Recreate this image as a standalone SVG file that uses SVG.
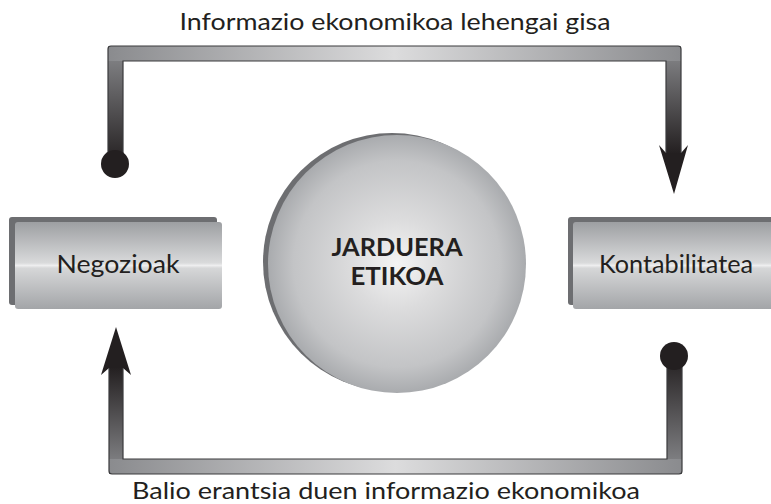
<svg xmlns="http://www.w3.org/2000/svg" width="771" height="504" viewBox="0 0 771 504">
<style>
.lbl{font-family:"Lato","Open Sans","Liberation Sans",sans-serif;font-size:23px;fill:#231f20;text-anchor:middle}
.node{font-family:"Lato","Open Sans","Liberation Sans",sans-serif;font-size:25px;fill:#231f20;text-anchor:middle}
.bold{font-family:"Lato","Open Sans","Liberation Sans",sans-serif;font-size:25px;font-weight:bold;fill:#231f20;text-anchor:middle}
.back{fill:#6d6e71}
.front{fill:url(#boxg)}
.outline{fill:none;stroke:#3a3a3c;stroke-width:1.2}
.head{fill:#231f20}
</style>
<defs>
<linearGradient id="boxg" x1="0" y1="0" x2="0" y2="1">
<stop offset="0" stop-color="#9d9fa2"/>
<stop offset="0.47" stop-color="#d9dadb"/>
<stop offset="0.5" stop-color="#eeeeef"/>
<stop offset="0.53" stop-color="#d6d7d8"/>
<stop offset="1" stop-color="#a3a5a8"/>
</linearGradient>
<radialGradient id="ballg" cx="0.5" cy="0.5" r="0.5">
<stop offset="0" stop-color="#f4f4f4"/>
<stop offset="0.35" stop-color="#dcdcdd"/>
<stop offset="0.8" stop-color="#c3c4c6"/>
<stop offset="1" stop-color="#a9abae"/>
</radialGradient>
<linearGradient id="hbar" x1="0" y1="0" x2="1" y2="0">
<stop offset="0" stop-color="#8a8b8e"/>
<stop offset="0.5" stop-color="#dcdcdd"/>
<stop offset="1" stop-color="#8a8b8e"/>
</linearGradient>
<linearGradient id="vdown" x1="0" y1="0" x2="0" y2="1">
<stop offset="0" stop-color="#8a8b8e"/>
<stop offset="1" stop-color="#231f20"/>
</linearGradient>
<linearGradient id="vup" x1="0" y1="0" x2="0" y2="1">
<stop offset="0" stop-color="#231f20"/>
<stop offset="1" stop-color="#8a8b8e"/>
</linearGradient>
</defs>

<g id="connectors">
<g id="top-connector">
<rect x="108" y="46" width="15" height="118" fill="url(#vdown)"/>
<rect x="666" y="46" width="15" height="108" fill="url(#vdown)"/>
<rect x="108" y="46" width="573" height="15" fill="url(#hbar)"/>
<path class="outline" d="M108,164 V49 Q108,46 111,46 H678 Q681,46 681,49 V154 M123,164 V61 H666 V154"/>
<circle class="head" cx="115" cy="164" r="14"/>
<polygon class="head" points="659,145 666,153 681,153 688,145 674,194"/>
</g>
<g id="bottom-connector">
<rect x="109" y="367" width="14" height="107" fill="url(#vup)"/>
<rect x="667" y="356" width="15" height="118" fill="url(#vup)"/>
<rect x="109" y="459" width="573" height="15" fill="url(#hbar)"/>
<path class="outline" d="M109,368 V471 Q109,474 112,474 H679 Q682,474 682,471 V360 M123,368 V459 H667 V360"/>
<circle class="head" cx="674" cy="356" r="14"/>
<polygon class="head" points="101,375 109,368 123,368 131,375 116,327"/>
</g>
</g>

<g id="negozioak">
<rect class="back" x="9" y="217" width="208" height="88" rx="3"/>
<rect class="front" x="15" y="222" width="207" height="87" rx="3"/>
<text class="node" x="118" y="273" textLength="123" lengthAdjust="spacingAndGlyphs">Negozioak</text>
</g>

<g id="kontabilitatea">
<rect class="back" x="568" y="217" width="220" height="88" rx="3"/>
<rect class="front" x="573" y="222" width="220" height="87" rx="3"/>
<text class="node" x="676" y="273" textLength="154" lengthAdjust="spacingAndGlyphs">Kontabilitatea</text>
</g>

<g id="jarduera-etikoa">
<circle cx="392" cy="262" r="129" fill="#6d6e71"/>
<circle cx="397" cy="264" r="129" fill="url(#ballg)"/>
<text class="bold" x="397" y="256" textLength="131" lengthAdjust="spacingAndGlyphs">JARDUERA</text>
<text class="bold" x="397" y="285" textLength="93" lengthAdjust="spacingAndGlyphs">ETIKOA</text>
</g>

<text class="lbl" x="395" y="30" textLength="431" lengthAdjust="spacingAndGlyphs">Informazio ekonomikoa lehengai gisa</text>
<text class="lbl" x="386" y="499" textLength="508" lengthAdjust="spacingAndGlyphs">Balio erantsia duen informazio ekonomikoa</text>
</svg>
